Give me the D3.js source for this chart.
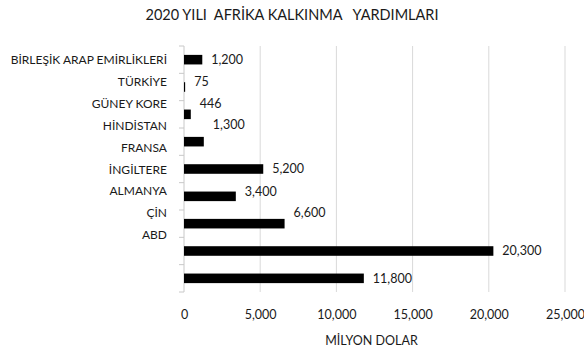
<!DOCTYPE html>
<html>
<head>
<meta charset="utf-8">
<script src="https://cdn.jsdelivr.net/npm/d3@7"></script>
<style>
  body { margin: 0; background: #fff; }
  svg { display: block; font-family: Lato, 'Open Sans', sans-serif; }
  .grid line { stroke: #d9d9d9; }
  .x-axis .domain { display: none; }
  .x-axis line { display: none; }
</style>
</head>
<body>
<svg id="chart" width="584" height="353"></svg>
<script>
// chart data
const title = '2020 YILI  AFRİKA KALKINMA   YARDIMLARI';
const categories = [
  'BİRLEŞİK ARAP EMİRLİKLERİ',
  'TÜRKİYE',
  'GÜNEY KORE',
  'HİNDİSTAN',
  'FRANSA',
  'İNGİLTERE',
  'ALMANYA',
  'ÇİN',
  'ABD',
];
const values = [1200, 75, 446, 1300, 5200, 3400, 6600, 20300, 11800];
const xTicks = [0, 5000, 10000, 15000, 20000, 25000];
const xTitle = 'MİLYON DOLAR';

// value labels sit a bit above some bars in the original (px)
const labelNudge = [0, -5, -11, -17, 0, -5, -11, 0, 0];

var svg = d3.select('#chart');

var margin = { top: 46, right: 19, bottom: 61, left: 184 },
  width = 584 - margin.left - margin.right,
  height = 353 - margin.top - margin.bottom;

var g = svg
  .append('g')
  .attr('transform', `translate(${margin.left},${margin.top})`);

// scales
var xScale = d3.scaleLinear().domain([0, 25000]).range([0, width]);

var yScale = d3
  .scaleBand()
  .domain(categories)
  .range([0, height])
  .paddingInner(0.65)
  .paddingOuter(0.325);

// category labels are spread on their own, tighter than the bars
var labelScale = d3
  .scalePoint()
  .domain(categories)
  .range([14, 189]);

// title
svg
  .append('text')
  .attr('x', 292)
  .attr('y', 20)
  .attr('text-anchor', 'middle')
  .attr('font-size', '14.5px')
  .attr('fill', '#1a1a1a')
  .style('white-space', 'pre')
  .text(title);

// gridlines
g.append('g')
  .attr('class', 'grid')
  .selectAll('line')
  .data(xTicks.slice(1))
  .join('line')
  .attr('x1', (d) => xScale(d))
  .attr('x2', (d) => xScale(d))
  .attr('y1', 0)
  .attr('y2', height);

// x axis (labels only)
var xAxis = g
  .append('g')
  .attr('class', 'x-axis')
  .attr('transform', `translate(0,${height})`)
  .call(
    d3
      .axisBottom(xScale)
      .tickValues(xTicks)
      .tickFormat(d3.format(','))
      .tickSize(0)
      .tickPadding(18)
  );

xAxis
  .selectAll('text')
  .attr('font-size', '12.5px')
  .attr('font-family', 'Lato, sans-serif')
  .attr('fill', '#1a1a1a');

// vertical axis line with ticks on band edges
var edges = categories
  .map((c) => yScale(c) - (yScale.step() - yScale.bandwidth()) / 2)
  .concat([height]);

g.append('line')
  .attr('x1', 0)
  .attr('x2', 0)
  .attr('y1', 0)
  .attr('y2', height)
  .attr('stroke', '#c8c8c8');

g.selectAll('.y-tick')
  .data(edges)
  .join('line')
  .attr('class', 'y-tick')
  .attr('x1', -5)
  .attr('x2', 0)
  .attr('y1', (d) => d)
  .attr('y2', (d) => d)
  .attr('stroke', '#c8c8c8');

// category labels
g.selectAll('.cat-label')
  .data(categories)
  .join('text')
  .attr('class', 'cat-label')
  .attr('x', -17)
  .attr('y', (d) => labelScale(d))
  .attr('dy', '0.35em')
  .attr('text-anchor', 'end')
  .attr('font-size', '12px')
  .attr('fill', '#1a1a1a')
  .text((d) => d);

// bars
g.selectAll('.bar')
  .data(values)
  .join('rect')
  .attr('class', 'bar')
  .attr('x', xScale(0))
  .attr('y', (d, i) => yScale(categories[i]))
  .attr('width', (d) => xScale(d) - xScale(0))
  .attr('height', yScale.bandwidth())
  .attr('fill', '#000');

// value labels
g.selectAll('.val-label')
  .data(values)
  .join('text')
  .attr('class', 'val-label')
  .attr('x', (d) => xScale(d) + 9)
  .attr(
    'y',
    (d, i) => yScale(categories[i]) + yScale.bandwidth() / 2 + labelNudge[i]
  )
  .attr('dy', '0.35em')
  .attr('font-size', '12.5px')
  .attr('fill', '#1a1a1a')
  .text((d) => d3.format(',')(d));

// x axis title
svg
  .append('text')
  .attr('x', margin.left + width / 2 - 3)
  .attr('y', 345)
  .attr('text-anchor', 'middle')
  .attr('font-size', '12.5px')
  .attr('fill', '#1a1a1a')
  .text(xTitle);
</script>
</body>
</html>
